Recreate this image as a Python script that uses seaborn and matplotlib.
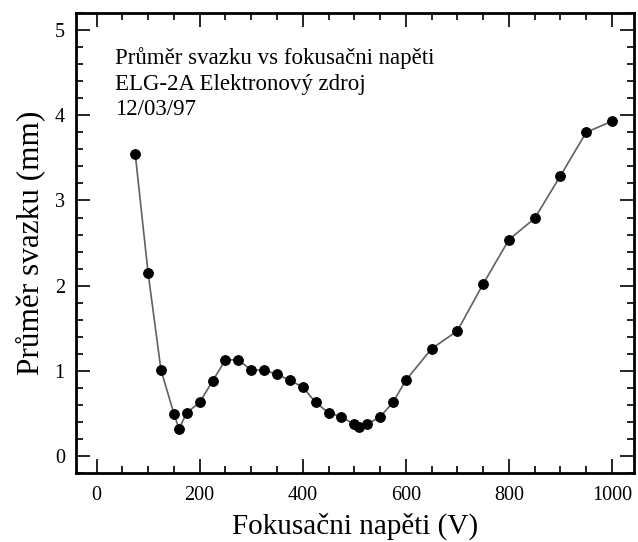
import matplotlib
matplotlib.use("Agg")
import matplotlib.pyplot as plt
import seaborn as sns
import pandas as pd
from matplotlib.ticker import MultipleLocator

sns.set_theme(style="ticks")
plt.rcParams['font.family'] = ['Liberation Serif', 'DejaVu Serif']
plt.rcParams['text.color'] = 'black'
plt.rcParams['axes.labelcolor'] = 'black'

voltage = [75, 100, 125, 150, 160, 175, 200, 225, 250, 275, 300, 325, 350, 375, 400,
           425, 450, 475, 500, 510, 525, 550, 575, 600, 650, 700, 750, 800, 850, 900, 950, 1000]
diameter = [3.55, 2.15, 1.01, 0.50, 0.32, 0.51, 0.63, 0.88, 1.13, 1.13, 1.01, 1.01, 0.96, 0.89, 0.81,
            0.63, 0.51, 0.46, 0.375, 0.34, 0.375, 0.46, 0.63, 0.89, 1.26, 1.47, 2.02, 2.54, 2.79, 3.29, 3.80, 3.93]

df = pd.DataFrame({"x": voltage, "y": diameter})

fig = plt.figure(figsize=(6.38, 5.42), dpi=100)
ax = fig.add_axes([0.119, 0.127, 0.875, 0.849])

sns.lineplot(data=df, x="x", y="y", ax=ax, color="#606060", linewidth=1.2,
             marker="o", markersize=7, markerfacecolor="black", markeredgecolor="black")

ax.set_xlim(-40, 1043)
ax.set_ylim(-0.2, 5.2)
ax.xaxis.set_major_locator(MultipleLocator(200))
ax.xaxis.set_minor_locator(MultipleLocator(50))
ax.yaxis.set_major_locator(MultipleLocator(1))
ax.yaxis.set_minor_locator(MultipleLocator(0.2))
ax.tick_params(which="both", direction="in", top=True, right=True, colors="black",
               width=1.2, labelsize=14.5)
ax.tick_params(which="major", length=10, pad=8)
ax.tick_params(which="minor", length=5)
ax.tick_params(axis="x", which="major", pad=9)
for s in ax.spines.values():
    s.set_linewidth(2)
    s.set_color("black")

ax.set_xlabel("Fokusačni napěti (V)", fontsize=21, labelpad=6)
ax.set_ylabel("Průměr svazku (mm)", fontsize=22.5, labelpad=7)

ax.text(0.07, 0.925, "Průměr svazku vs fokusačni napěti\nELG-2A Elektronový zdroj\n12/03/97",
        transform=ax.transAxes, fontsize=16.5, va="top", ha="left", linespacing=1.28)

fig.savefig("out.png", dpi=100)
